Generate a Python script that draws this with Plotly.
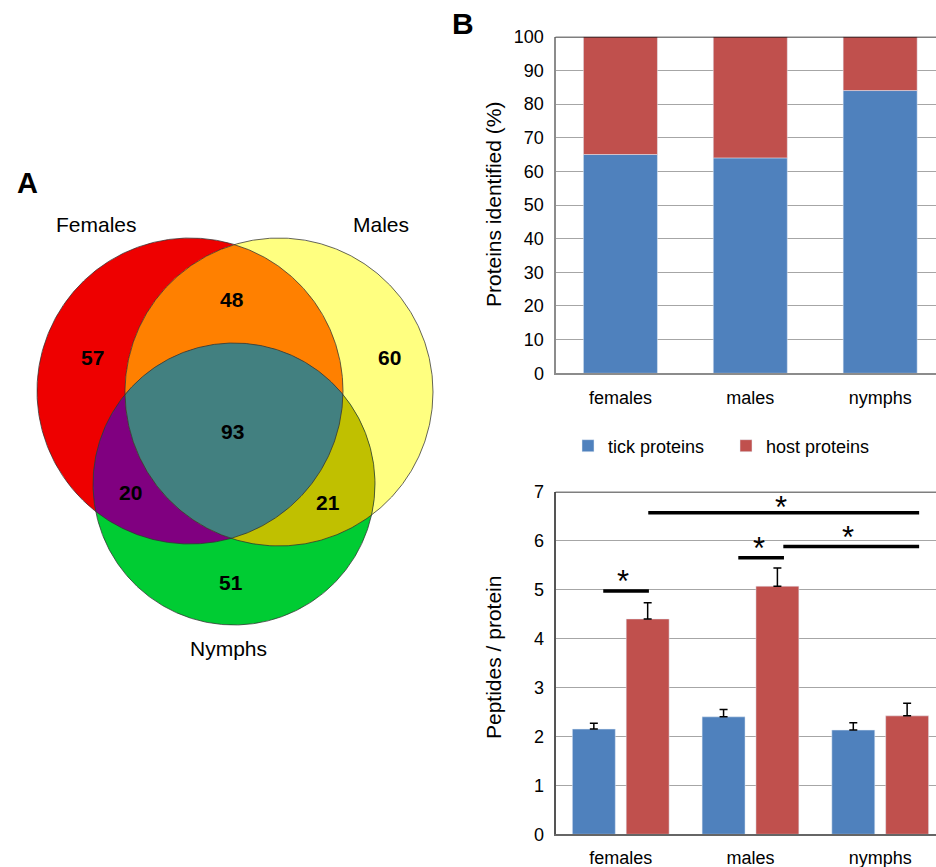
import numpy as np
import plotly.graph_objects as go

W, H = 936, 867
FONT = "Liberation Sans, Arial, Helvetica, sans-serif"
BLUE = "#4F81BD"
RED = "#C0504D"

# ---------------- data ----------------
venn_set_names = ["Females", "Males", "Nymphs"]
venn_regions = ["F", "M", "N", "FM", "FN", "MN", "FMN"]
venn_counts = [57, 60, 51, 48, 20, 21, 93]

categories = ["females", "males", "nymphs"]
tick_pct = [65, 64, 84]
host_pct = [35, 36, 16]

tick_pep = [2.15, 2.40, 2.13]
tick_pep_err = [0.12, 0.15, 0.15]
host_pep = [4.40, 5.07, 2.42]
host_pep_err = [0.33, 0.37, 0.26]

# ---------------- layout helpers ----------------
def px(x):
    return x / W

def py(y):
    return 1 - y / H

# Venn geometry (drawing layout, in pixel units of the venn axes)
circles = {"F": (190, 391, 153), "M": (279, 392, 154), "N": (234, 484, 141)}
region_colors = {"F": "#EE0000", "M": "#FFFF80", "N": "#00CC33",
                 "FM": "#FF8000", "FN": "#800080", "MN": "#C0C000",
                 "FMN": "#428080"}
region_label_pos = {"F": (92, 357), "M": (389, 357), "N": (231, 582),
                    "FM": (232, 299), "FN": (130, 492), "MN": (328, 502),
                    "FMN": (232, 431)}
set_label_pos = [(96, 224), (381, 224), (228, 648)]


def region_poly(keys):
    xs, ys = [], []
    for k in keys:
        cx, cy, r = circles[k]
        t = np.linspace(0, 2 * np.pi, 2400, endpoint=False)
        x = cx + r * np.cos(t)
        y = cy + r * np.sin(t)
        m = np.ones_like(x, bool)
        for j in keys:
            if j == k:
                continue
            jx, jy, jr = circles[j]
            m &= (x - jx) ** 2 + (y - jy) ** 2 <= jr ** 2 + 1e-6
        xs.append(x[m]); ys.append(y[m])
    x = np.concatenate(xs); y = np.concatenate(ys)
    mx, my = x.mean(), y.mean()
    o = np.argsort(np.arctan2(y - my, x - mx))
    x, y = x[o], y[o]
    return np.append(x, x[0]), np.append(y, y[0])


fig = go.Figure()

# Venn regions (painted from general to specific)
for reg in venn_regions:
    x, y = region_poly(list(reg))
    fig.add_trace(go.Scatter(x=x, y=y, mode="lines", fill="toself",
                             fillcolor=region_colors[reg], line=dict(width=0),
                             hoverinfo="skip", showlegend=False,
                             xaxis="x", yaxis="y"))
# circle outlines
for k in ["F", "M", "N"]:
    cx, cy, r = circles[k]
    t = np.linspace(0, 2 * np.pi, 721)
    fig.add_trace(go.Scatter(x=cx + r * np.cos(t), y=cy + r * np.sin(t), mode="lines",
                             line=dict(color="rgba(50,50,50,0.75)", width=1),
                             hoverinfo="skip", showlegend=False,
                             xaxis="x", yaxis="y"))

annotations = []
for reg, cnt in zip(venn_regions, venn_counts):
    x, y = region_label_pos[reg]
    annotations.append(dict(x=x, y=y, xref="x", yref="y", text=f"<b>{cnt}</b>",
                            showarrow=False, font=dict(size=21, color="black", family=FONT)))
for name, (x, y) in zip(venn_set_names, set_label_pos):
    annotations.append(dict(x=x, y=y, xref="x", yref="y", text=name, showarrow=False,
                            font=dict(size=21, color="black", family=FONT)))

# ---------------- chart B top: stacked percent ----------------
w1 = 0.57
fig.add_trace(go.Bar(x=categories, y=tick_pct, name="tick proteins", marker_color=BLUE,
                     width=w1, offset=-w1 / 2, xaxis="x2", yaxis="y2"))
fig.add_trace(go.Bar(x=categories, y=host_pct, base=tick_pct, name="host proteins",
                     marker_color=RED, width=w1, offset=-w1 / 2, xaxis="x2", yaxis="y2"))

# ---------------- chart B bottom: peptides / protein ----------------
w2 = 0.331
err_style = dict(type="data", symmetric=False, color="black", thickness=1.5, width=4)
fig.add_trace(go.Bar(x=categories, y=tick_pep, marker_color=BLUE, width=w2, offset=-0.373,
                     error_y=dict(array=tick_pep_err, arrayminus=[0] * 3, **err_style),
                     showlegend=False, xaxis="x3", yaxis="y3"))
fig.add_trace(go.Bar(x=categories, y=host_pep, marker_color=RED, width=w2, offset=0.042,
                     error_y=dict(array=host_pep_err, arrayminus=[0] * 3, **err_style),
                     showlegend=False, xaxis="x3", yaxis="y3"))

shapes = []
# top border lines
shapes.append(dict(type="line", xref="x2 domain", yref="y2", x0=0, x1=1, y0=100, y1=100,
                   line=dict(color="black", width=1.5)))
shapes.append(dict(type="line", xref="x3 domain", yref="y3", x0=0, x1=1, y0=7, y1=7,
                   line=dict(color="black", width=1.5)))

# significance bars (x in category units, y in data units)
sig_lines = [(-0.135, 0.217, 4.97), (0.212, 2.30, 6.57), (0.906, 1.258, 5.65), (1.253, 2.30, 5.88)]
sig_stars = [(0.017, 5.27), (1.233, 6.77), (1.063, 5.95), (1.754, 6.17)]
for x0, x1, yv in sig_lines:
    shapes.append(dict(type="line", xref="x3", yref="y3", x0=x0, x1=x1, y0=yv, y1=yv,
                       line=dict(color="black", width=3.5)))
for xs_, ys_ in sig_stars:
    annotations.append(dict(x=xs_, y=ys_, xref="x3", yref="y3", text="*", showarrow=False,
                            xanchor="center", yanchor="middle", yshift=-5,
                            font=dict(size=31, color="black", family=FONT)))

# axis titles and panel letters
def paper_text(x, y, text, size, angle=0):
    return dict(x=px(x), y=py(y), xref="paper", yref="paper", text=text, textangle=angle,
                showarrow=False, xanchor="center", yanchor="middle",
                font=dict(size=size, color="black", family=FONT))

annotations.append(paper_text(493, 205, "Proteins identified (%)", 21, -90))
annotations.append(paper_text(493, 658, "Peptides / protein", 21, -90))
annotations.append(paper_text(27, 183, "<b>A</b>", 29))
annotations.append(paper_text(463, 24, "<b>B</b>", 30))

ax_common = dict(ticks="outside", tickcolor="rgba(0,0,0,0)", zeroline=False, automargin=False,
                 tickfont=dict(size=18, color="black", family=FONT))

fig.update_layout(
    width=W, height=H, margin=dict(l=0, r=0, t=0, b=0, autoexpand=False),
    paper_bgcolor="white", plot_bgcolor="white",
    barmode="overlay",
    font=dict(family=FONT, color="black"),
    xaxis=dict(domain=[0, px(450)], range=[0, 450], visible=False, fixedrange=True),
    yaxis=dict(domain=[0, 1], range=[867, 0], visible=False, fixedrange=True),
    xaxis2=dict(domain=[px(555.5), 1], range=[-0.5, 2.43], type="category", anchor="y2",
                showline=True, linecolor="#8c8c8c", linewidth=2, showgrid=False,
                ticklen=7, **ax_common),
    yaxis2=dict(domain=[py(373.3), py(36.7)], range=[0, 100], dtick=10, anchor="x2",
                showline=True, linecolor="#8c8c8c", linewidth=2, showgrid=True,
                gridcolor="#a6a6a6", gridwidth=1.3, ticklen=6, **ax_common),
    xaxis3=dict(domain=[px(555.5), 1], range=[-0.503, 2.43], type="category", anchor="y3",
                showline=True, linecolor="#666666", linewidth=2, showgrid=False,
                ticklen=6, **ax_common),
    yaxis3=dict(domain=[py(834.3), py(491.7)], range=[0, 7], dtick=1, anchor="x3",
                showline=True, linecolor="#555555", linewidth=2, showgrid=True,
                gridcolor="#a6a6a6", gridwidth=1.3, ticklen=6, **ax_common),
    legend=dict(orientation="h", x=px(568), y=py(446), xanchor="left", yanchor="middle",
                font=dict(size=18, color="black", family=FONT), bgcolor="rgba(0,0,0,0)",
                entrywidth=113, traceorder="normal"),
    shapes=shapes, annotations=annotations,
)

# remove the browser's default 8px body margin so the 936x867 figure fills the window exactly
fig.write_html("out.html", config={"displayModeBar": False},
               post_script="document.body.style.margin='0';document.body.style.overflow='hidden';")
